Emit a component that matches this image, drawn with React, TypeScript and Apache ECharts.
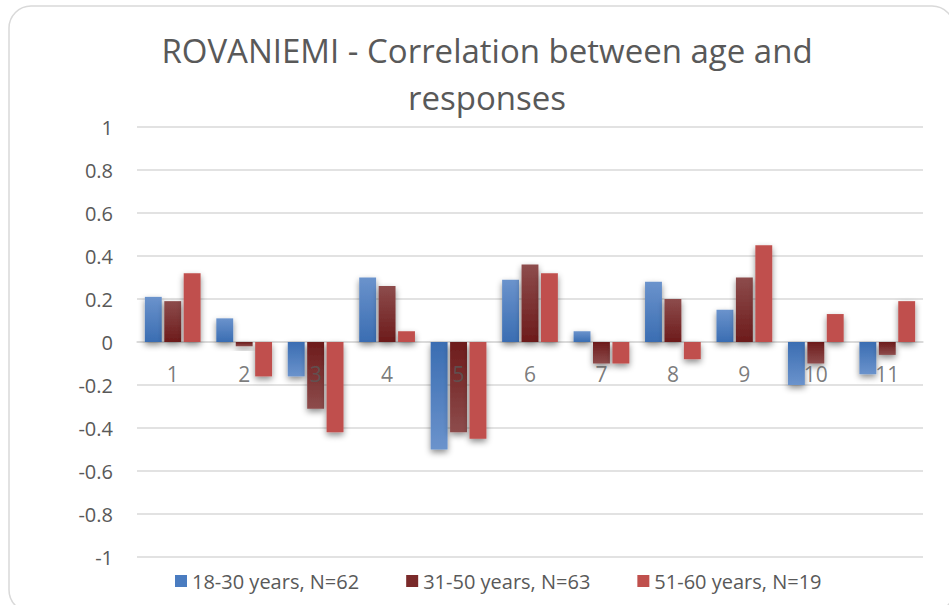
import React, { useEffect, useRef } from "react";
import * as echarts from "echarts";

const categories = ["1", "2", "3", "4", "5", "6", "7", "8", "9", "10", "11"];
const seriesNames = ["18-30 years, N=62", "31-50 years, N=63", "51-60 years, N=19"];
const young = [0.21, 0.11, -0.16, 0.3, -0.5, 0.29, 0.05, 0.28, 0.15, -0.2, -0.15];
const middle = [0.19, -0.02, -0.31, 0.26, -0.42, 0.36, -0.1, 0.2, 0.3, -0.1, -0.06];
const senior = [0.32, -0.16, -0.42, 0.05, -0.45, 0.32, -0.1, -0.08, 0.45, 0.13, 0.19];
const yTicks = { min: -1, max: 1, interval: 0.2 };

const FONT = "'Open Sans', 'Noto Sans', sans-serif";
const TXT = "#595959";

function grad(light: string, dark: string, v: number) {
  const stops = v >= 0
    ? [{ offset: 0, color: light }, { offset: 1, color: dark }]
    : [{ offset: 0, color: dark }, { offset: 1, color: light }];
  return new echarts.graphic.LinearGradient(0, 0, 0, 1, stops);
}

export default function App() {
  const ref = useRef<HTMLDivElement>(null);
  useEffect(() => {
    if (!ref.current) return;
    const chart = echarts.init(ref.current, undefined, { renderer: "svg" });
    const palettes = [
      { light: "#6b93cc", dark: "#3a6db2", legend: "#4a7cc0" },
      { light: "#8d4c4c", dark: "#6d1b1b", legend: "#7a2a2a" },
      { light: "#c0504d", dark: "#c0504d", legend: "#c0504d" },
    ];
    const datas = [young, middle, senior];
    const shadow = {
      shadowBlur: 6,
      shadowColor: "rgba(0,0,0,0.45)",
      shadowOffsetX: 0,
      shadowOffsetY: 3,
    };
    const barSeries = datas.map((d, i) => ({
      name: seriesNames[i],
      type: "bar",
      barGap: "15%",
      barCategoryGap: "22%",
      itemStyle: { color: palettes[i].legend, ...shadow },
      data: d.map((v) => ({
        value: v,
        itemStyle: { color: grad(palettes[i].light, palettes[i].dark, v), ...shadow },
      })),
    }));
    const labelSeries = {
      name: "categoryLabels",
      type: "scatter",
      silent: true,
      z: 5,
      symbolSize: 2,
      itemStyle: { color: "rgba(0,0,0,0)" },
      data: categories.map((c) => [c, 0]),
      label: {
        show: true,
        position: "bottom",
        distance: 20,
        formatter: (p: any) => categories[p.dataIndex],
        fontFamily: FONT,
        fontSize: 21,
        color: TXT,
      },
      labelLayout: { hideOverlap: false },
    };
    chart.setOption({
      animation: false,
      backgroundColor: "#ffffff",
      graphic: [
        {
          type: "rect",
          shape: { x: 9, y: 6, width: 945, height: 606, r: 22 },
          style: { fill: "none", stroke: "#d9d9d9", lineWidth: 1.5 },
          silent: true,
        },
      ],
      title: {
        text: "ROVANIEMI - Correlation between age and\nresponses",
        left: 482,
        textAlign: "center",
        top: 22,
        textStyle: {
          fontFamily: FONT,
          fontSize: 33,
          fontWeight: 400,
          color: TXT,
          lineHeight: 47,
        },
      },
      legend: {
        bottom: 9,
        left: 170,
        itemWidth: 12,
        itemHeight: 12,
        itemGap: 47,
        icon: "rect",
        textStyle: { fontFamily: FONT, fontSize: 20, color: TXT },
        data: seriesNames.map((n, i) => ({
          name: n,
          itemStyle: { color: palettes[i].legend },
        })),
      },
      grid: { left: 137, right: 26, top: 127, bottom: 48 },
      xAxis: {
        type: "category",
        data: categories,
        axisLine: { onZero: true, lineStyle: { color: "#d9d9d9", width: 1.5 } },
        axisTick: { show: false },
        axisLabel: { show: false },
      },
      yAxis: {
        type: "value",
        min: yTicks.min,
        max: yTicks.max,
        interval: yTicks.interval,
        axisLine: { show: false },
        axisTick: { show: false },
        splitLine: { lineStyle: { color: "#d9d9d9", width: 1.5 } },
        axisLabel: {
          fontFamily: FONT,
          fontSize: 20,
          color: TXT,
          margin: 24,
          formatter: (v: number) => String(Math.round(v * 10) / 10),
        },
      },
      series: [...barSeries, labelSeries],
    });
    return () => chart.dispose();
  }, []);
  return (
    <div
      ref={ref}
      style={{ position: "fixed", left: 0, top: 0, width: 949, height: 605 }}
    />
  );
}
